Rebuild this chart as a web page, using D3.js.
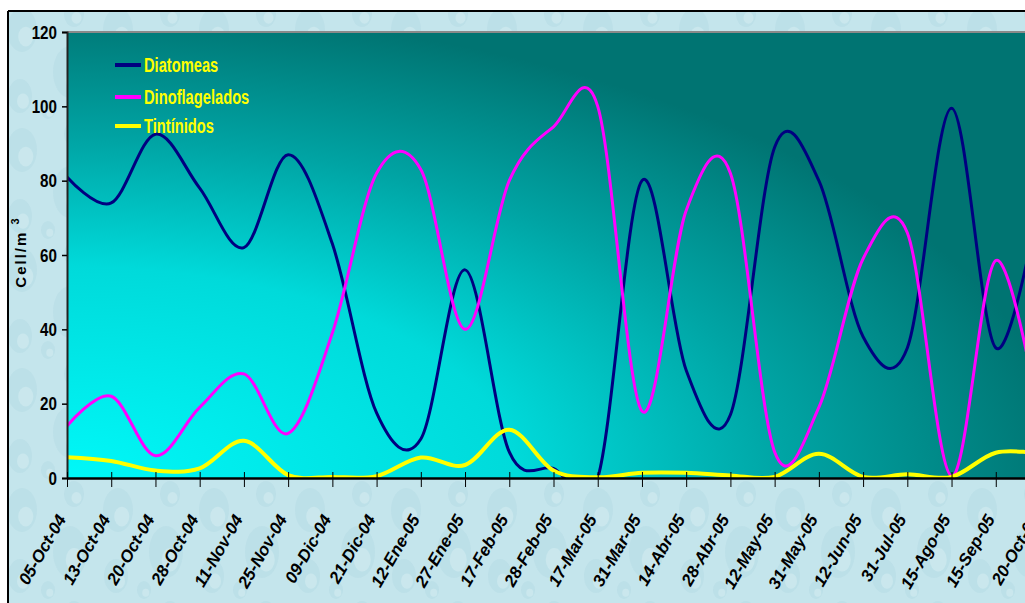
<!DOCTYPE html>
<html>
<head>
    <script src="https://cdn.jsdelivr.net/npm/d3@7/dist/d3.min.js"></script>
    <style>
        body { margin: 0; background: #fff; }
        .narrow { font-family: "Liberation Sans", Arial, sans-serif; font-weight: bold; }
    </style>
</head>

<body>
<div id="chart"></div>

<script>

    var dates = ["05-Oct-04", "13-Oct-04", "20-Oct-04", "28-Oct-04", "11-Nov-04", "25-Nov-04",
        "09-Dic-04", "21-Dic-04", "12-Ene-05", "27-Ene-05", "17-Feb-05", "28-Feb-05",
        "17-Mar-05", "31-Mar-05", "14-Abr-05", "28-Abr-05", "12-May-05", "31-May-05",
        "12-Jun-05", "31-Jul-05", "15-Ago-05", "15-Sep-05", "20-Oct-05"];

    var diatomeas = [81, 74, 92.5, 78, 62, 87, 63, 17.5, 10.5, 56, 7, 2.6,
        0, 80, 29, 17, 89, 80, 38, 35, 99.5, 35, 76];
    var dinoflagelados = [14, 22, 6, 19, 28, 12, 39, 82, 83, 40, 80, 94.5,
        100, 18, 72, 82, 7, 19, 59, 66, 0.5, 58.5, 15];
    var tintinidos = [5.6, 4.6, 2, 2.6, 10, 0.8, 0.3, 0.5, 5.5, 3.5, 13, 2,
        0.2, 1.4, 1.4, 0.7, 0.3, 6.5, 0.3, 1, 0.3, 6.8, 6.5];

    var yTicks = [0, 20, 40, 60, 80, 100, 120];

    var series = [
        { name: "Diatomeas", values: diatomeas, color: "#000080", width: 3 },
        { name: "Dinoflagelados", values: dinoflagelados, color: "#ff00ff", width: 3 },
        { name: "Tintínidos", values: tintinidos, color: "#ffff00", width: 4 }
    ];

    var width = 1025;
    var height = 603;
    var plot = { left: 67, top: 32, right: 1040, bottom: 478 };

    var svg = d3.select('#chart').append('svg')
        .attr('width', width)
        .attr('height', height);

    var defs = svg.append('defs');

    // water drop texture for the outer background
    var pat = defs.append('pattern')
        .attr('id', 'drops')
        .attr('patternUnits', 'userSpaceOnUse')
        .attr('width', 96)
        .attr('height', 120);
    pat.append('rect').attr('width', 96).attr('height', 120).attr('fill', '#c4e5ec');
    [[22, 30, 15, 22], [70, 72, 17, 26], [20, 96, 12, 17], [74, 14, 10, 13], [48, 110, 7, 9]].forEach(function(e) {
        pat.append('ellipse')
            .attr('cx', e[0]).attr('cy', e[1]).attr('rx', e[2]).attr('ry', e[3])
            .attr('fill', '#aad5df').attr('opacity', 0.3);
        pat.append('ellipse')
            .attr('cx', e[0] + e[2] * 0.25).attr('cy', e[1] + e[3] * 0.3)
            .attr('rx', e[2] * 0.5).attr('ry', e[3] * 0.45)
            .attr('fill', '#dff2f6').attr('opacity', 0.4);
    });

    // plot area gradient: bright cyan in the lower left corner, dark teal away from it
    var grad = defs.append('radialGradient')
        .attr('id', 'plotBg')
        .attr('gradientUnits', 'userSpaceOnUse')
        .attr('cx', 0).attr('cy', 0).attr('r', 1)
        .attr('gradientTransform', 'translate(' + plot.left + ',' + plot.bottom + ') scale(1000,470)');
    grad.append('stop').attr('offset', 0).attr('stop-color', '#00f8f8');
    grad.append('stop').attr('offset', 0.45).attr('stop-color', '#00dada');
    grad.append('stop').attr('offset', 0.72).attr('stop-color', '#00a4a4');
    grad.append('stop').attr('offset', 1).attr('stop-color', '#007472');

    defs.append('clipPath').attr('id', 'plotClip')
        .append('rect')
        .attr('x', plot.left).attr('y', plot.top)
        .attr('width', plot.right - plot.left + 20)
        .attr('height', plot.bottom - plot.top);

    // outer frame
    svg.append('rect')
        .attr('x', 8).attr('y', 11)
        .attr('width', width).attr('height', height)
        .attr('fill', 'url(#drops)');
    svg.append('line').attr('x1', 8).attr('x2', width).attr('y1', 11).attr('y2', 11)
        .attr('stroke', '#000').attr('stroke-width', 2);
    svg.append('line').attr('x1', 8).attr('x2', 8).attr('y1', 11).attr('y2', height)
        .attr('stroke', '#000').attr('stroke-width', 2);

    var xScale = d3.scalePoint()
        .domain(dates)
        .range([plot.left, plot.right]);

    var yScale = d3.scaleLinear()
        .domain([0, 120])
        .range([plot.bottom, plot.top]);

    svg.append('rect')
        .attr('x', plot.left).attr('y', plot.top)
        .attr('width', width - plot.left).attr('height', plot.bottom - plot.top)
        .attr('fill', 'url(#plotBg)');
    svg.append('line')
        .attr('x1', plot.left).attr('x2', width)
        .attr('y1', plot.top).attr('y2', plot.top)
        .attr('stroke', '#8a8a8a').attr('stroke-width', 2);

    var line = d3.line()
        .x(function(d, i) { return xScale(dates[i]); })
        .y(function(d) { return yScale(d); })
        .curve(d3.curveCardinal.tension(0));

    svg.append('g')
        .attr('clip-path', 'url(#plotClip)')
        .selectAll('path.series')
        .data(series)
        .enter()
        .append('path')
        .attr('class', 'series')
        .attr('fill', 'none')
        .attr('stroke', function(d) { return d.color; })
        .attr('stroke-width', function(d) { return d.width; })
        .attr('stroke-linejoin', 'round')
        .attr('d', function(d) { return line(d.values); });

    // y axis, labels squeezed like a narrow font
    var yAxis = svg.append('g')
        .attr('transform', 'translate(' + plot.left + ',0)')
        .call(d3.axisLeft(yScale).tickValues(yTicks).tickSize(5).tickPadding(4));
    yAxis.select('.domain').attr('stroke', '#222').attr('stroke-width', 2);
    yAxis.selectAll('.tick line').attr('stroke', '#000').attr('stroke-width', 1.5);
    yAxis.selectAll('.tick text')
        .attr('class', 'narrow')
        .attr('x', 0)
        .attr('transform', 'translate(-10,0) scale(0.8,1)')
        .style('font-size', '19px')
        .attr('fill', '#000');

    // x axis, ticks cross the line
    var xAxis = svg.append('g')
        .attr('transform', 'translate(0,' + plot.bottom + ')')
        .call(d3.axisBottom(xScale).tickSize(9).tickSizeOuter(0));
    xAxis.select('.domain').attr('stroke', '#000').attr('stroke-width', 2.5);
    xAxis.selectAll('.tick line').attr('y1', -6).attr('stroke', '#000').attr('stroke-width', 1);
    xAxis.selectAll('.tick text')
        .attr('text-anchor', 'end')
        .attr('transform', 'translate(-6,38) rotate(-60)')
        .attr('x', 0).attr('y', 0).attr('dy', '0.35em')
        .style('font-family', '"Liberation Sans", Arial, sans-serif')
        .style('font-size', '17px')
        .style('font-weight', 'bold')
        .style('font-style', 'italic')
        .attr('fill', '#000');

    // axis title
    var title = svg.append('text')
        .attr('transform', 'translate(26,252) rotate(-90)')
        .attr('text-anchor', 'middle')
        .style('font-family', '"Liberation Sans", Arial, sans-serif')
        .style('font-size', '15px')
        .style('font-weight', 'bold')
        .style('letter-spacing', '2px')
        .attr('fill', '#000');
    title.append('tspan').text('Cell/m ');
    title.append('tspan').attr('dy', -7).style('font-size', '11px').text('3');

    // legend
    var legend = svg.append('g')
        .attr('transform', 'translate(115,65)');
    var items = legend.selectAll('g.item')
        .data(series)
        .enter()
        .append('g')
        .attr('class', 'item')
        .attr('transform', function(d, i) { return 'translate(0,' + [0, 32, 61][i] + ')'; });
    items.append('line')
        .attr('x1', 0).attr('x2', 26)
        .attr('stroke', function(d) { return d.color; })
        .attr('stroke-width', 4);
    items.append('text')
        .attr('class', 'narrow')
        .attr('transform', 'translate(29,0) scale(0.7,1)')
        .attr('dy', '0.35em')
        .style('font-size', '21px')
        .attr('fill', '#ffff00')
        .text(function(d) { return d.name; });

</script>
</body>
</html>
